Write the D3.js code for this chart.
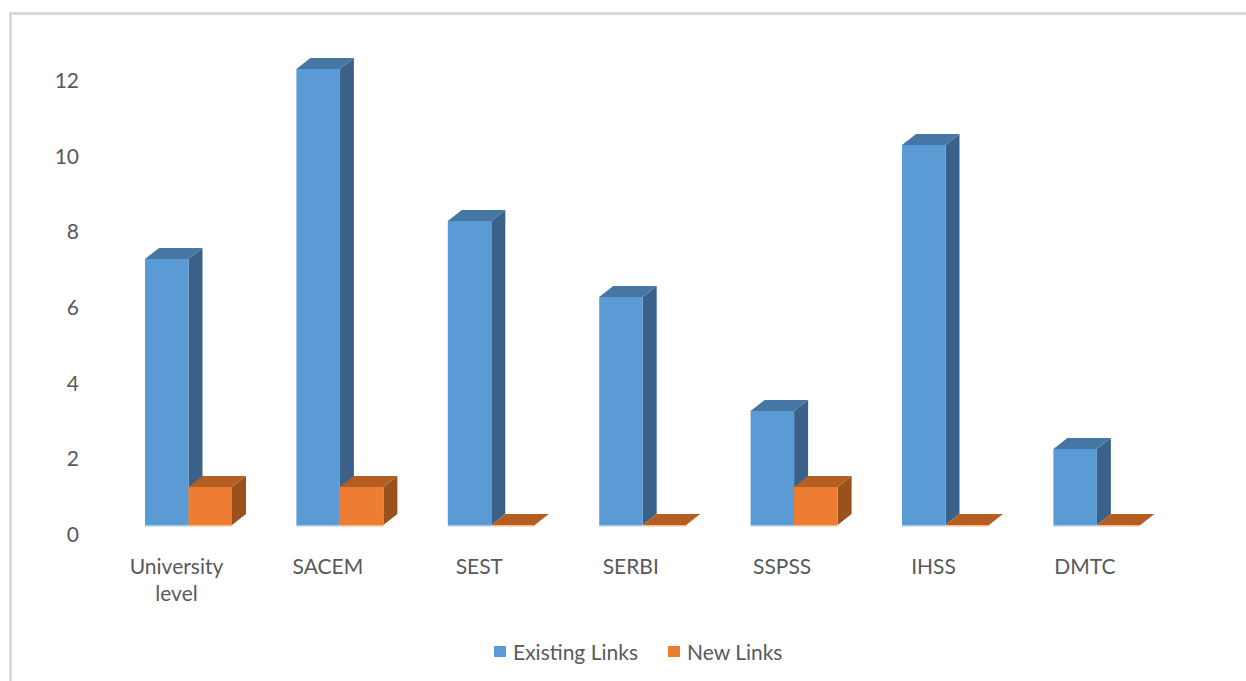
<!DOCTYPE html>
<html>
<head>
<meta charset="utf-8">
<script src="https://cdn.jsdelivr.net/npm/d3@7"></script>
<style>
  html, body { margin: 0; padding: 0; background: #ffffff; }
  svg { display: block; }
  text { font-family: Lato, "Open Sans", sans-serif; fill: #595959; }
</style>
</head>
<body>
<script>
// ---- data ----
const categories = ["University level", "SACEM", "SEST", "SERBI", "SSPSS", "IHSS", "DMTC"];
const seriesNames = ["Existing Links", "New Links"];
const existingLinks = [7, 12, 8, 6, 3, 10, 2];
const newLinks = [1, 1, 0, 0, 1, 0, 0];
const yTicks = [0, 2, 4, 6, 8, 10, 12];

// ---- styles ----
const W = 1246, H = 681;
const palette = {
  "Existing Links": { front: "#5b9bd5", top: "#4676a3", side: "#3a6289", edge: "#a9cbec" },
  "New Links":      { front: "#ed7d31", top: "#b45f21", side: "#9b511c", edge: "#f6b98f" }
};
const depthX = 14, depthY = -11;

const svg = d3.select("body").append("svg").attr("width", W).attr("height", H);

// chart frame (only top & left visible in the crop)
svg.append("path")
  .attr("d", `M10.5,${H + 5} L10.5,13.5 L${W + 5},13.5`)
  .attr("fill", "none").attr("stroke", "#d9d9d9").attr("stroke-width", 3);

// scales
const x = d3.scaleBand().domain(categories).range([112.8, 1172.6])
  .paddingInner(0.4254).paddingOuter(0.2127);
const xSub = d3.scaleBand().domain(seriesNames).range([0, x.bandwidth()]);
const yFront = d3.scaleLinear().domain([0, 12]).range([525, 69]);
const yLabel = d3.scaleLinear().domain([0, 12]).range([534, 80]);

// y axis labels
const yAxis = d3.axisLeft(yLabel).tickValues(yTicks).tickSize(0).tickPadding(0);
const gy = svg.append("g").attr("transform", "translate(79,0)").call(yAxis);
gy.select(".domain").remove();
gy.selectAll("text").style("font-family", "Lato, 'Open Sans', sans-serif")
  .style("font-size", "21px").attr("fill", "#595959").attr("dy", "0.36em");

// bars
const rows = categories.map((c, i) => ({
  cat: c,
  vals: [{ s: "Existing Links", v: existingLinks[i] }, { s: "New Links", v: newLinks[i] }]
}));

const groups = svg.append("g").selectAll("g.cat").data(rows).join("g").attr("class", "cat");

groups.each(function (row) {
  const g = d3.select(this);
  row.vals.forEach(d => {
    const x0 = x(row.cat) + xSub(d.s);
    const x1 = x0 + xSub.bandwidth();
    const yT = yFront(d.v), yB = yFront(0);
    const col = palette[d.s];
    const bg = g.append("g");
    if (d.v > 0) {
      // side face
      bg.append("path")
        .attr("d", `M${x1},${yT} L${x1 + depthX},${yT + depthY} L${x1 + depthX},${yB + depthY} L${x1},${yB} Z`)
        .attr("fill", col.side);
      // front face
      bg.append("rect").attr("x", x0).attr("y", yT).attr("width", x1 - x0).attr("height", yB - yT)
        .attr("fill", col.front);
    }
    // top face
    bg.append("path")
      .attr("d", `M${x0},${yT} L${x0 + depthX},${yT + depthY} L${x1 + depthX},${yT + depthY} L${x1},${yT} Z`)
      .attr("fill", col.top);
    // light bottom edge
    bg.append("rect").attr("x", x0).attr("y", yB).attr("width", x1 - x0).attr("height", 1.5)
      .attr("fill", col.edge);
  });
});

// category labels
const labels = svg.append("g").selectAll("text").data(categories).join("text")
  .attr("x", d => x(d) + x.bandwidth() / 2 - 12)
  .attr("y", 574)
  .attr("text-anchor", "middle")
  .style("font-size", "21px");
labels.each(function (d) {
  const words = d.length > 8 ? d.split(" ") : [d];
  const t = d3.select(this);
  words.forEach((w, i) => {
    t.append("tspan").attr("x", x(d) + x.bandwidth() / 2 - 12).attr("dy", i === 0 ? 0 : 27).text(w);
  });
});

// legend
const legend = svg.append("g");
const legendX = [494, 668];
seriesNames.forEach((s, i) => {
  legend.append("rect").attr("x", legendX[i]).attr("y", 646).attr("width", 12).attr("height", 11)
    .attr("fill", palette[s].front);
  legend.append("text").attr("x", legendX[i] + 19).attr("y", 659.5)
    .style("font-size", "21px").text(s);
});
</script>
</body>
</html>
